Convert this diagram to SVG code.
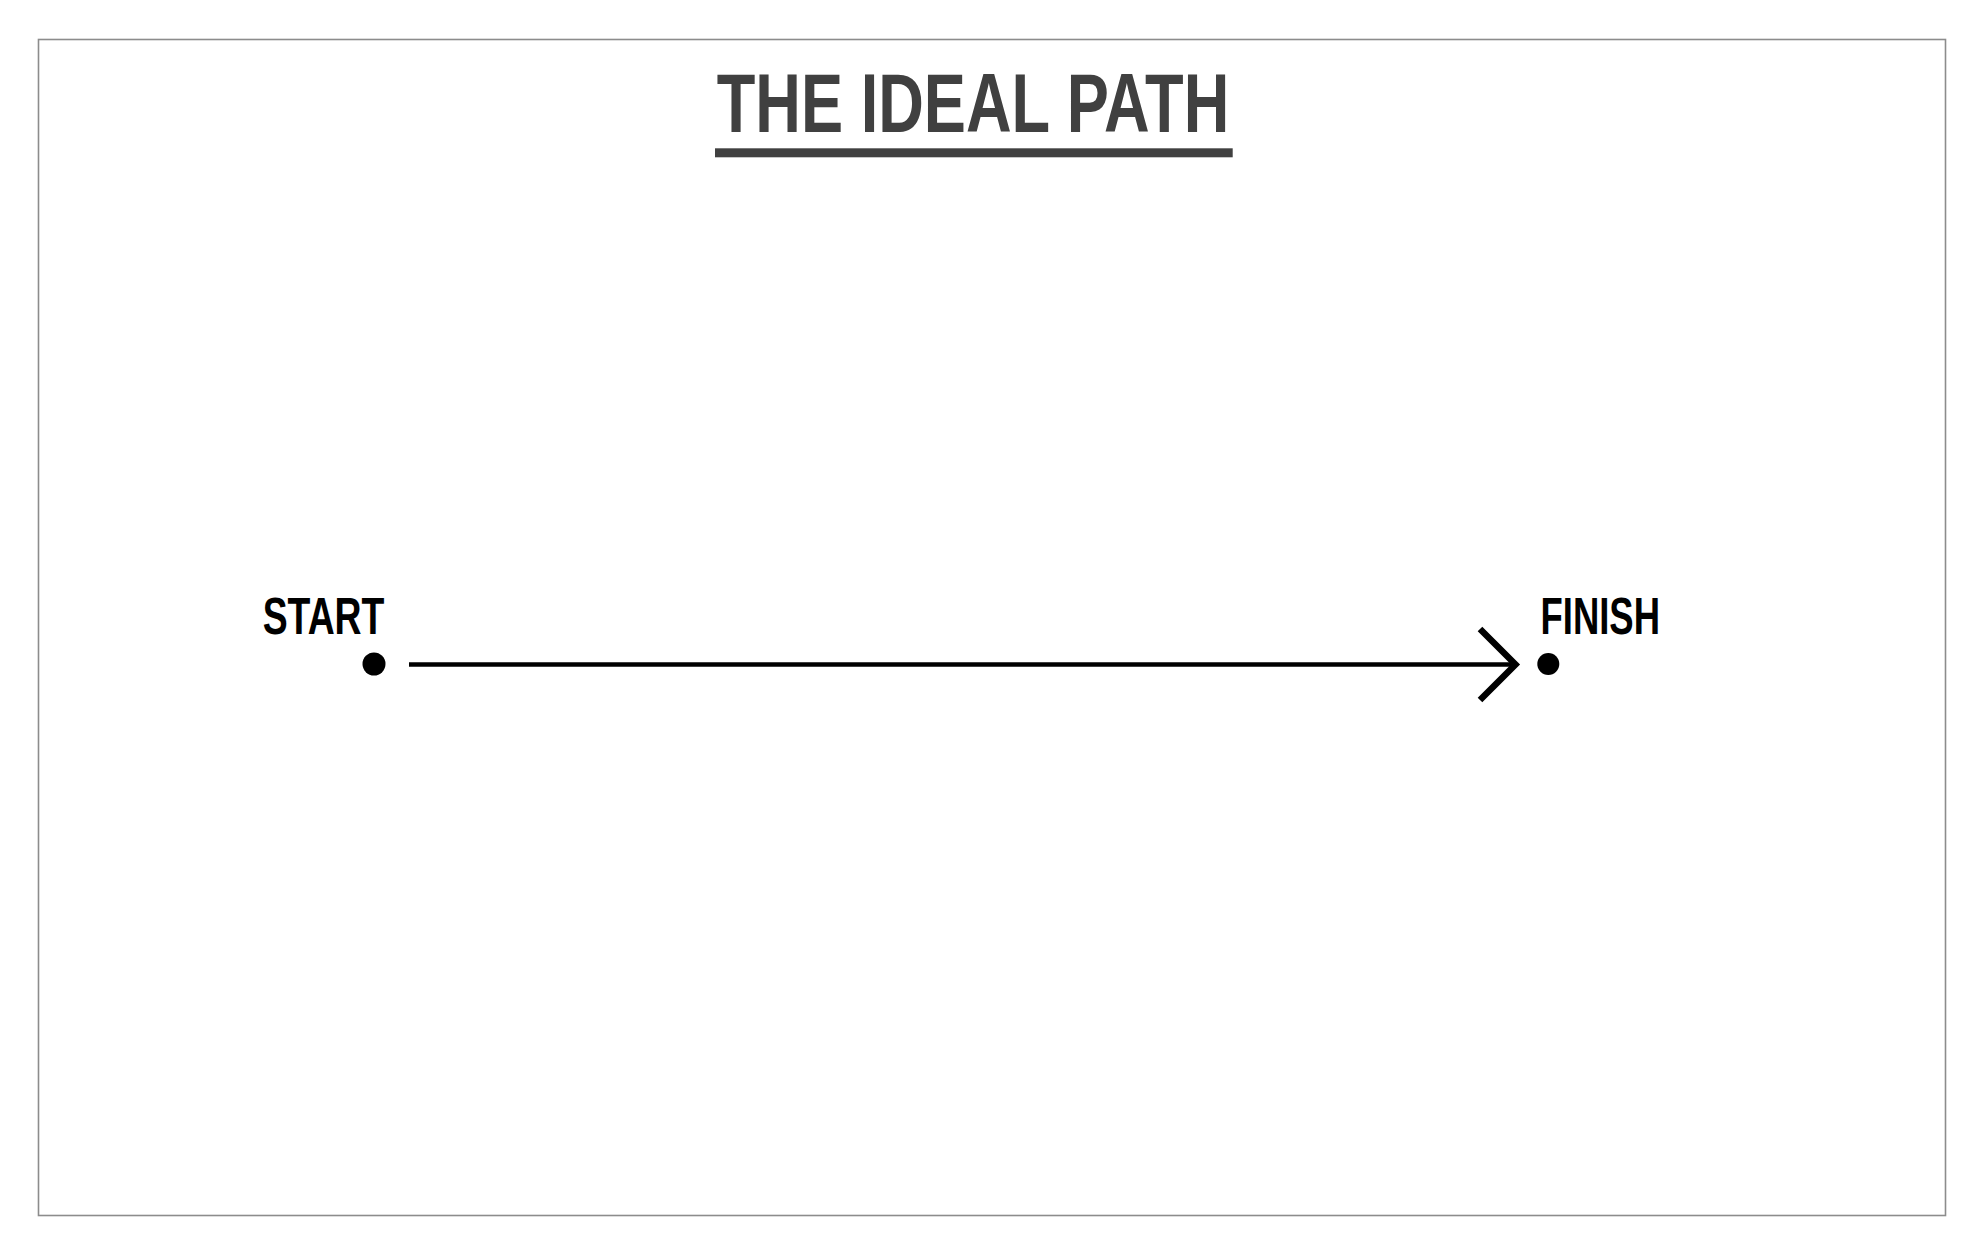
<svg xmlns="http://www.w3.org/2000/svg" width="1985" height="1256" viewBox="0 0 1985 1256">
  <style>
    .title { font-family: "Liberation Sans", Arial, sans-serif; font-weight: bold; font-size: 84px; fill: #404040; }
    .label { font-family: "Liberation Sans", Arial, sans-serif; font-weight: bold; font-size: 51px; fill: #000000; }
    .dot { fill: #000000; }
    .path { stroke: #000000; stroke-width: 4.5; fill: none; }
    .head { stroke: #000000; stroke-width: 6.5; fill: none; stroke-linecap: butt; stroke-linejoin: miter; }
  </style>
  <rect x="0" y="0" width="1985" height="1256" fill="#ffffff"/>
  <rect id="frame" x="38.5" y="39.5" width="1907" height="1176" fill="none" stroke="#8c8c8c" stroke-width="1.6"/>
  <g id="title">
    <text class="title" x="716.7" y="131.7" textLength="512.6" lengthAdjust="spacingAndGlyphs">THE IDEAL PATH</text>
    <rect x="715" y="148.3" width="517.7" height="9" fill="#404040"/>
  </g>
  <g id="start">
    <text class="label" x="262.7" y="634" textLength="121.7" lengthAdjust="spacingAndGlyphs">START</text>
    <circle class="dot" cx="374" cy="664" r="11.5"/>
  </g>
  <g id="finish">
    <text class="label" x="1540.5" y="634" textLength="119.5" lengthAdjust="spacingAndGlyphs">FINISH</text>
    <circle class="dot" cx="1548.3" cy="664" r="11"/>
  </g>
  <g id="connectors">
    <line class="path" x1="409" y1="664.5" x2="1515" y2="664.5"/>
    <polyline class="head" points="1480,629 1515.5,664.5 1480,700"/>
  </g>
</svg>
